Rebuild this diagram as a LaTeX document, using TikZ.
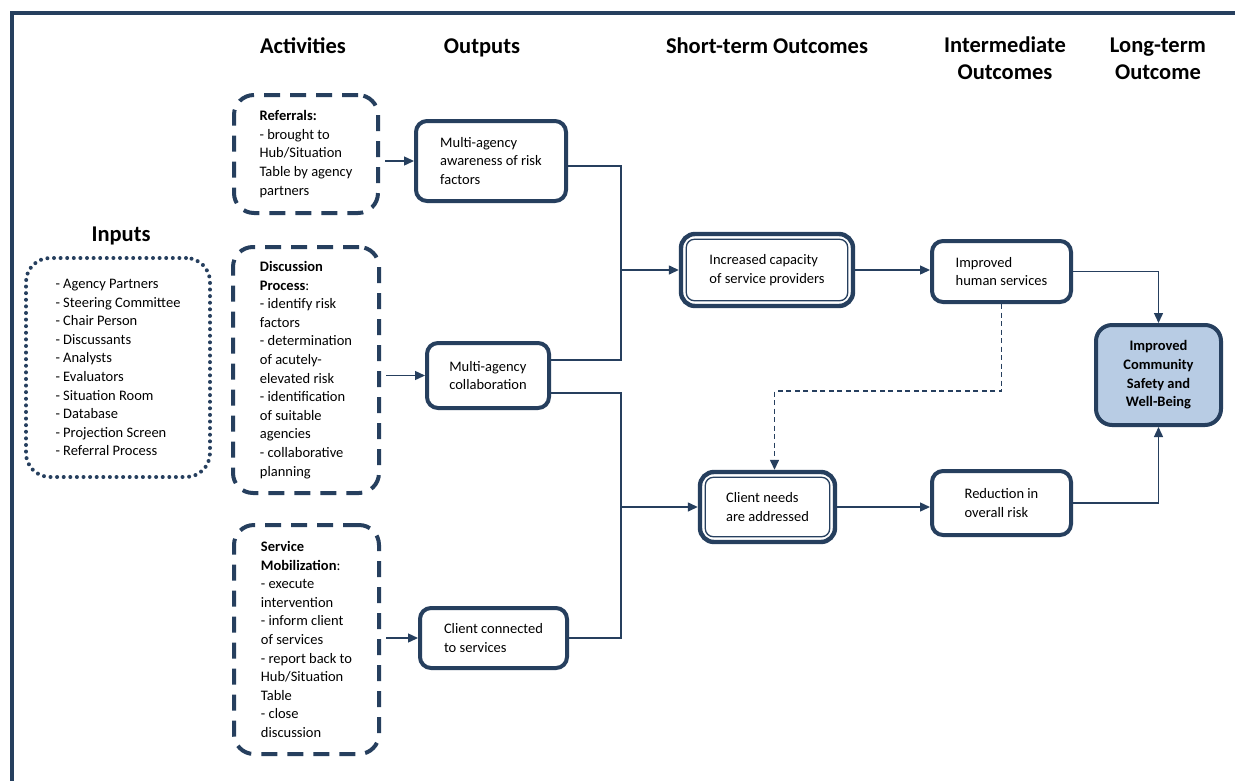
\documentclass[tikz,border=0pt]{standalone}
\usepackage{fontspec}
\setmainfont{Carlito}
\usetikzlibrary{arrows.meta,calc}
\definecolor{navy}{HTML}{263F5E}
\definecolor{ltblue}{HTML}{B8CCE4}
\begin{document}
\begin{tikzpicture}[x=1pt,y=-1pt,
  font=\fontsize{14.5}{18.6}\selectfont,
  base/.style={draw=navy,line width=4pt,rounded corners=11pt,align=left,inner sep=0pt},
  actbox/.style={base,dash pattern=on 16pt off 10pt,rounded corners=20pt},
  inbox/.style={draw=navy,line width=4pt,dash pattern=on 0pt off 6.6pt,line cap=round,rounded corners=24pt,align=left,inner sep=0pt},
  outbox/.style={base},
  stbox/.style={base,line width=4.4pt,rounded corners=14pt},
  ltbox/.style={base,fill=ltblue,align=center,rounded corners=16pt,font=\fontsize{14.5}{18.6}\selectfont\bfseries},
  inner/.style={draw=navy,line width=1.3pt,rounded corners=8pt},
  hdr/.style={font=\fontsize{22.5}{27}\selectfont\bfseries,align=center},
  hdrone/.style={hdr,text height=16pt,text depth=5pt,inner sep=0pt},
  conn/.style={draw=navy,line width=1.4pt},
  arr/.style={conn,-{Triangle[length=10pt,width=9pt]}},
  darr/.style={arr,dash pattern=on 5pt off 3.5pt}
]
\useasboundingbox (0,0) rectangle (1235,780);
\fill[white] (0,0) rectangle (1235,780);
\draw[navy,line width=4pt] (12,782) -- (12,13) -- (1237,13);

% headers
\node[hdrone] (hact) at (303,48) {Activities};
\node[hdrone] (hout) at (482,48) {Outputs};
\node[hdrone] (hst) at (767,48) {Short-term Outcomes};
\node[hdr] (hint) at (1005,58.5) {Intermediate\\Outcomes};
\node[hdr] (hlt) at (1158,58.5) {Long-term\\Outcome};
\node[hdrone] (hin) at (121,236) {Inputs};

% inputs
\node[inbox,minimum width=184pt,minimum height=219pt] (inp) at (118,367.5)
  {- Agency Partners\\- Steering Committee\\- Chair Person\\- Discussants\\- Analysts\\- Evaluators\\- Situation Room\\- Database\\- Projection Screen\\- Referral Process};

% activities
\node[actbox,minimum width=144pt,minimum height=118pt] (ref) at (306,154)
  {\textbf{Referrals:}\\- brought to\\Hub/Situation\\Table by agency\\partners};
\node[actbox,minimum width=146pt,minimum height=246pt] (disc) at (306,370)
  {\textbf{Discussion}\\\textbf{Process}:\\- identify risk\\factors\\- determination\\of acutely-\\elevated risk\\- identification\\of suitable\\agencies\\- collaborative\\planning};
\node[actbox,minimum width=145pt,minimum height=229pt] (serv) at (306.5,639.5)
  {\textbf{Service}\\\textbf{Mobilization}:\\- execute\\intervention\\- inform client\\of services\\- report back to\\Hub/Situation\\Table\\- close\\discussion};

% outputs
\node[outbox,minimum width=150pt,minimum height=80pt] (oaw) at (491,161)
  {Multi-agency\\awareness of risk\\factors};
\node[outbox,minimum width=122pt,minimum height=65pt] (ocol) at (488,375.5)
  {Multi-agency\\collaboration};
\node[outbox,minimum width=147pt,minimum height=60pt] (ocli) at (493.5,638)
  {Client connected\\to services};

% short-term
\node[stbox,minimum width=172pt,minimum height=72pt] (st1) at (767,270)
  {Increased capacity\\of service providers};
\draw[inner] ([shift={(7.5pt,7.5pt)}]st1.south west) rectangle ([shift={(-7.5pt,-7.5pt)}]st1.north east);
\node[stbox,minimum width=135pt,minimum height=70pt] (st2) at (767.5,507)
  {Client needs\\are addressed};
\draw[inner] ([shift={(7.5pt,7.5pt)}]st2.south west) rectangle ([shift={(-7.5pt,-7.5pt)}]st2.north east);

% intermediate
\node[outbox,minimum width=139pt,minimum height=61pt] (im1) at (1001.5,271.5)
  {Improved\\human services};
\node[outbox,minimum width=139pt,minimum height=64pt] (im2) at (1001.5,503)
  {Reduction in\\overall risk};

% long-term
\node[ltbox,minimum width=125pt,minimum height=100pt] (lt) at (1158.5,375)
  {Improved\\Community\\Safety and\\Well-Being};

% connectors
\draw[arr,shorten <=5pt] (ref.east |- oaw.west) -- (oaw.west);
\draw[arr,shorten <=5pt] (disc.east |- ocol.west) -- (ocol.west);
\draw[arr,shorten <=5pt] (serv.east |- ocli.west) -- (ocli.west);

\draw[conn] ([yshift=-5pt]oaw.east) -- ++(53,0) coordinate (b1) |- ([yshift=15.5pt]ocol.east);
\draw[arr] (b1 |- st1.west) -- (st1.west);
\draw[conn] ([yshift=-17.5pt]ocol.east) -- ++(70,0) coordinate (b2) |- (ocli.east);
\draw[arr] (b2 |- st2.west) -- (st2.west);

\draw[arr] (st1.east) -- (st1.east -| im1.west);
\draw[arr] (st2.east) -- (st2.east -| im2.west);
\draw[arr] (im1.east) -| (lt.north);
\draw[arr] (im2.east) -| (lt.south);
\draw[darr] (im1.south) -- ++(0,87) -| ([xshift=7pt]st2.north);
\end{tikzpicture}
\end{document}
